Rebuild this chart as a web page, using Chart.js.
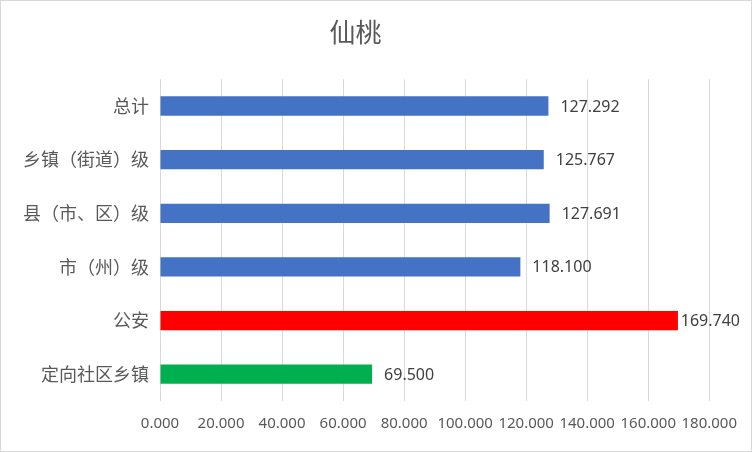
<!DOCTYPE html>
<html>
<head>
<meta charset="utf-8">
<script src="https://cdn.jsdelivr.net/npm/chart.js@4"></script>
<style>
    body { margin: 0; background: #fff; }
    #box { width: 750px; height: 450px; border: 1px solid #d9d9d9; }
</style>
</head>
<body>
<div id="box"><canvas id="chart-bars" width="750" height="450"></canvas></div>
<script>
var categories = ["总计", "乡镇（街道）级", "县（市、区）级", "市（州）级", "公安", "定向社区乡镇"];
var values = [127.292, 125.767, 127.691, 118.100, 169.740, 69.500];
var xMin = 0, xMax = 180, xStep = 20;

var barColors = ["#4472C4", "#4472C4", "#4472C4", "#4472C4", "#FF0000", "#00B050"];
var textFont = '"Noto Sans", "Noto Sans CJK SC", sans-serif';

// 畫數值標籤在長條尾端，超出右邊時往內收
var valueLabels = {
    id: "valueLabels",
    afterDatasetsDraw: function (chart) {
        var ctx = chart.ctx;
        var meta = chart.getDatasetMeta(0);
        ctx.save();
        ctx.font = "16px " + textFont;
        ctx.fillStyle = "#404040";
        ctx.textAlign = "left";
        ctx.textBaseline = "middle";
        meta.data.forEach(function (bar, i) {
            var txt = values[i].toFixed(3);
            var w = ctx.measureText(txt).width;
            var x = Math.min(bar.x + 12, chart.width - 11 - w);
            ctx.fillText(txt, x, bar.y + 1);
        });
        ctx.restore();
    }
};

var ctx = document.getElementById("chart-bars").getContext("2d");
new Chart(ctx, {
    type: "bar",
    data: {
        labels: categories,
        datasets: [{
            data: values,
            backgroundColor: barColors,
            borderWidth: 0,
            barPercentage: 0.36,
            categoryPercentage: 1
        }]
    },
    plugins: [valueLabels],
    options: {
        indexAxis: "y",
        responsive: false,
        animation: false,
        layout: { padding: { left: 0, right: 41, top: 0, bottom: 0 } },
        plugins: {
            legend: { display: false },
            tooltip: { enabled: false },
            title: {
                display: true,
                text: "仙桃",
                color: "#595959",
                font: { size: 26, family: '"Noto Sans CJK SC", sans-serif', weight: "normal" },
                padding: { top: 16, bottom: 31 }
            }
        },
        scales: {
            x: {
                min: xMin,
                max: xMax,
                border: { display: false },
                grid: { color: "#d9d9d9", lineWidth: 1, drawTicks: false },
                afterFit: function (scale) { scale.height = 50; },
                ticks: {
                    stepSize: xStep,
                    autoSkip: false,
                    maxRotation: 0,
                    padding: 14,
                    color: "#595959",
                    font: { size: 15, family: textFont },
                    callback: function (v) { return Number(v).toFixed(3); }
                }
            },
            y: {
                border: { display: false },
                grid: { display: false, drawTicks: false },
                afterFit: function (scale) { scale.width = 159; },
                ticks: {
                    padding: 11,
                    color: "#595959",
                    font: { size: 18, family: '"Noto Sans CJK SC", sans-serif' }
                }
            }
        }
    }
});
</script>
</body>
</html>
